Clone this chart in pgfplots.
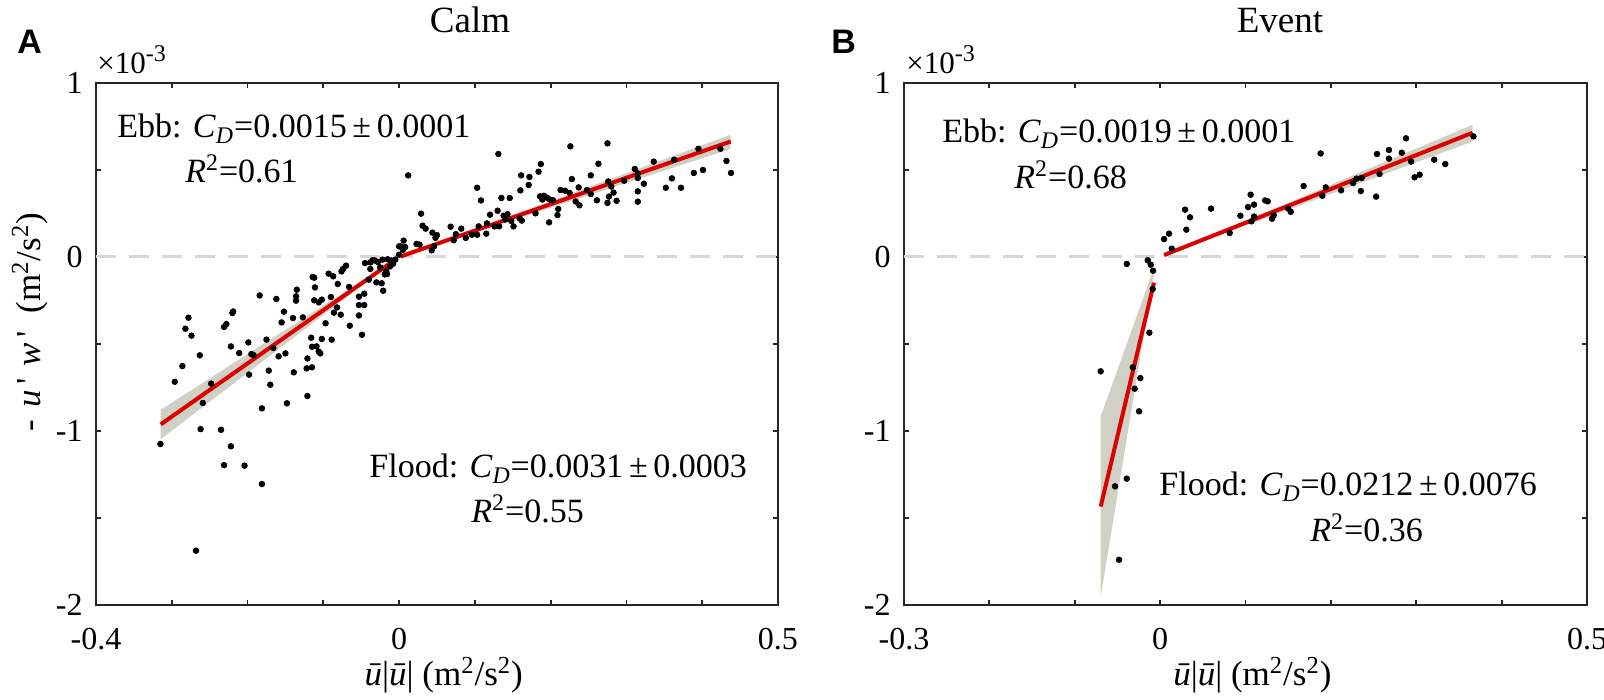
\documentclass[border=0pt]{standalone}
\usepackage{fontspec}
\setmainfont{Liberation Serif}
\newfontfamily\sansfont{Liberation Sans}
\usepackage{pgfplots}
\pgfplotsset{compat=1.18}

\definecolor{fitred}{RGB}{220,0,0}
\definecolor{bandgray}{RGB}{208,208,196}
\definecolor{axgray}{RGB}{38,38,38}
\definecolor{zerogray}{RGB}{215,215,215}

\pgfplotstableread{
x y
-0.315 -1.075
-0.268 -1.688
-0.296 -0.717
-0.286 -0.627
-0.278 -0.349
-0.282 -0.412
-0.274 -0.452
-0.263 -0.565
-0.259 -0.839
-0.248 -0.728
-0.262 -0.989
-0.235 -0.993
-0.222 -1.088
-0.231 -1.196
-0.204 -1.199
-0.181 -1.305
-0.181 -0.870
-0.148 -0.841
-0.121 -0.799
-0.231 -0.402
-0.228 -0.386
-0.220 -0.322
-0.219 -0.313
-0.222 -0.514
-0.211 -0.552
-0.199 -0.491
-0.195 -0.558
-0.192 -0.564
-0.198 -0.676
-0.184 -0.221
-0.175 -0.475
-0.166 -0.523
-0.172 -0.653
-0.170 -0.734
-0.159 -0.571
-0.150 -0.554
-0.162 -0.241
-0.152 -0.314
-0.155 -0.376
-0.140 -0.351
-0.139 -0.663
-0.136 -0.226
-0.136 -0.251
-0.135 -0.188
-0.127 -0.347
-0.121 -0.583
-0.122 -0.640
-0.115 -0.634
-0.116 -0.464
-0.115 -0.516
-0.109 -0.514
-0.106 -0.544
-0.104 -0.554
-0.102 -0.471
-0.089 -0.475
-0.114 -0.115
-0.112 -0.119
-0.111 -0.175
-0.112 -0.249
-0.106 -0.261
-0.102 -0.245
-0.097 -0.381
-0.093 -0.096
-0.090 -0.230
-0.087 -0.111
-0.086 -0.320
-0.082 -0.290
-0.081 -0.155
-0.077 -0.332
-0.076 -0.083
-0.074 -0.069
-0.070 -0.050
-0.066 -0.172
-0.065 -0.395
-0.053 -0.336
-0.053 -0.276
-0.053 -0.228
-0.049 -0.447
-0.046 -0.211
-0.046 -0.276
-0.045 -0.035
-0.038 -0.031
-0.035 -0.019
-0.028 -0.029
-0.022 -0.015
-0.015 -0.013
-0.040 -0.130
-0.038 -0.069
-0.030 -0.146
-0.023 -0.151
-0.021 -0.194
-0.019 -0.100
-0.017 -0.082
-0.016 -0.098
-0.012 -0.054
-0.008 -0.039
-0.032 -0.020
-0.025 -0.060
-0.010 -0.020
-0.005 -0.015
}\calmflood

\pgfplotstableread{
x y
0.000 0.061
0.000 0.013
0.012 0.469
0.006 0.094
0.002 0.061
0.008 0.057
0.005 0.041
0.023 0.075
0.027 0.071
0.029 0.249
0.031 0.180
0.035 0.163
0.044 0.140
0.050 0.126
0.048 0.110
0.043 0.038
0.046 0.061
0.068 0.174
0.072 0.096
0.075 0.131
0.082 0.163
0.088 0.110
0.096 0.128
0.103 0.398
0.108 0.325
0.103 0.128
0.105 0.176
0.115 0.134
0.116 0.193
0.120 0.243
0.126 0.176
0.131 0.592
0.130 0.266
0.132 0.176
0.135 0.339
0.138 0.237
0.140 0.215
0.143 0.246
0.146 0.339
0.148 0.207
0.151 0.176
0.159 0.222
0.162 0.209
0.160 0.383
0.161 0.469
0.171 0.414
0.172 0.460
0.180 0.251
0.184 0.490
0.187 0.534
0.186 0.349
0.189 0.330
0.191 0.352
0.195 0.341
0.199 0.330
0.203 0.326
0.198 0.199
0.209 0.241
0.210 0.276
0.213 0.385
0.219 0.381
0.226 0.636
0.228 0.448
0.225 0.368
0.233 0.319
0.237 0.400
0.238 0.297
0.248 0.385
0.253 0.362
0.253 0.469
0.261 0.326
0.263 0.536
0.275 0.653
0.276 0.434
0.275 0.311
0.277 0.347
0.283 0.370
0.280 0.405
0.287 0.323
0.297 0.438
0.311 0.506
0.315 0.481
0.315 0.454
0.315 0.377
0.315 0.318
0.323 0.421
0.336 0.548
0.352 0.398
0.360 0.452
0.363 0.559
0.372 0.398
0.389 0.483
0.395 0.622
0.401 0.500
0.424 0.622
0.432 0.552
0.438 0.483
}\calmebb

\pgfplotstableread{
x y
0.0046 0.103
0.0104 0.134
0.0136 0.048
0.0292 0.272
0.035 0.228
0.0307 0.157
0.0596 0.278
0.0815 0.138
0.094 0.237
0.103 0.287
0.106 0.358
0.110 0.301
0.110 0.232
0.107 0.205
0.123 0.325
0.126 0.320
0.131 0.220
0.133 0.239
0.150 0.278
0.153 0.260
0.168 0.408
0.188 0.595
0.190 0.352
0.194 0.400
0.212 0.383
0.226 0.425
0.230 0.450
0.236 0.454
0.235 0.379
0.253 0.347
0.257 0.477
0.254 0.592
0.268 0.565
0.268 0.615
0.283 0.599
0.288 0.682
0.294 0.548
0.298 0.458
0.304 0.473
0.321 0.559
0.334 0.534
0.367 0.693
}\eventebb

\pgfplotstableread{
x y
-0.0391 -0.040
-0.0145 -0.019
-0.011 -0.044
-0.0083 -0.079
-0.0087 -0.184
-0.0126 -0.435
-0.0696 -0.657
-0.032 -0.634
-0.0232 -0.696
-0.0298 -0.757
-0.0247 -0.887
-0.0391 -1.274
-0.0528 -1.318
-0.0481 -1.740
}\eventflood

\pgfplotsset{
  panel/.style={
    scale only axis, width=341pt, height=261pt,
    ymin=-2, ymax=1,
    ytick={-2,-1.5,-1,-0.5,0,0.5,1},
    yticklabels={-2,,-1,,0,,1},
    axis line style={axgray, line width=1.2pt},
    every tick/.style={axgray, line width=0.9pt},
    major tick length=2.6pt,
    tick align=inside,
    /pgf/number format/assume math mode=true,
    tick label style={font=\fontsize{16}{18}\selectfont, inner sep=0pt, text=black},
    xticklabel style={yshift=-11.5pt},
    yticklabel style={xshift=-6.5pt},
    label style={font=\fontsize{17.5}{20}\selectfont},
    xlabel={\textit{ū}|\textit{ū}| (m\textsuperscript{2}/s\textsuperscript{2})},
    xlabel style={at={(axis description cs:0.51,-0.155)}, anchor=base},
  },
  scat/.style={only marks, mark=*, mark size=1.4pt, black},
  fit/.style={fitred, line width=2pt},
  band/.style={fill=bandgray, draw=none},
  zero/.style={zerogray, line width=1.5pt, dash pattern=on 10pt off 6.5pt},
}

\newcommand{\expolabel}{\fontsize{15.5}{18}\selectfont ×10\raisebox{6pt}{\fontsize{12}{14}\selectfont -3}}

\begin{document}
\begin{tikzpicture}
\useasboundingbox (0,0) rectangle (802pt,350pt);

% ---------------- Panel A (Calm) ----------------
\begin{axis}[panel, at={(48pt,47.5pt)}, anchor=south west,
  xmin=-0.4, xmax=0.5,
  xtick={-0.4,-0.3,-0.2,-0.1,0,0.1,0.2,0.3,0.4,0.5},
  xticklabels={-0.4,,,,0,,,,,0.5},
  ylabel={-\,\,\textit{u}\,\textquotesingle\,\,\textit{w}\,\textquotesingle\ \ (m\textsuperscript{2}/s\textsuperscript{2})},
  ylabel style={at={(axis description cs:-0.0968,0.542)}, anchor=center},
]
\addplot[zero] coordinates {(-0.4,0) (0.5,0)};
\addplot[band] coordinates {(-0.3146,-0.878) (-0.0098,-0.027) (-0.0098,-0.033) (-0.3146,-1.047)} -- cycle;
\addplot[band] coordinates {(0.002,0.0028) (0.4376,0.703) (0.4376,0.621) (0.002,0.0025)} -- cycle;
\addplot[scat] table[x=x,y=y] {\calmflood};
\addplot[scat] table[x=x,y=y] {\calmebb};
\addplot[fit] coordinates {(-0.3146,-0.962) (-0.0098,-0.030)};
\addplot[fit] coordinates {(0.002,0.003) (0.4376,0.664)};
\end{axis}

% ---------------- Panel B (Event) ----------------
\begin{axis}[panel, at={(452pt,47.5pt)}, anchor=south west,
  width=341.5pt,
  xmin=-0.3, xmax=0.5,
  xtick={-0.3,-0.2,-0.1,0,0.1,0.2,0.3,0.4,0.5},
  xticklabels={-0.3,,,0,,,,,0.5},
]
\addplot[zero] coordinates {(-0.3,0) (0.5,0)};
\addplot[band] coordinates {(-0.0696,-0.916) (-0.0048,-0.031) (-0.0075,-0.105) (-0.0696,-1.95)} -- cycle;
\addplot[band] coordinates {(0.0046,0.0096) (0.366,0.760) (0.366,0.664) (0.0046,0.0083)} -- cycle;
\addplot[scat] table[x=x,y=y] {\eventflood};
\addplot[scat] table[x=x,y=y] {\eventebb};
\addplot[fit] coordinates {(-0.0072,-0.148) (-0.0696,-1.434)};
\addplot[fit] coordinates {(0.0046,0.011) (0.366,0.714)};
\end{axis}

% ---------------- texts (pixel grid of the reference) ----------------
\begin{scope}[x=0.5pt, y=-0.5pt, shift={(0,350pt)}]
  \node[anchor=base west, inner sep=0pt, font=\sansfont\bfseries\fontsize{17}{20}\selectfont] at (17,54) {A};
  \node[anchor=base west, inner sep=0pt, font=\sansfont\bfseries\fontsize{17}{20}\selectfont] at (831,54) {B};
  \node[anchor=base, inner sep=0pt, font=\fontsize{18.5}{22}\selectfont] at (470,33) {Calm};
  \node[anchor=base, inner sep=0pt, font=\fontsize{18.5}{22}\selectfont] at (1280,33) {Event};
  \node[anchor=base west, inner sep=0pt, font=\fontsize{15.5}{18}\selectfont] at (97,74) {\expolabel};
  \node[anchor=base west, inner sep=0pt, font=\fontsize{15.5}{18}\selectfont] at (906,74) {\expolabel};
  \begin{scope}[every node/.style={anchor=base west, inner sep=0pt, font=\fontsize{17}{20}\selectfont}]
    \node at (117,138) {Ebb: \textit{C}\textsubscript{\textit{D}}=0.0015\,±\,0.0001};
    \node at (185,183) {\textit{R}\textsuperscript{2}=0.61};
    \node at (369,478) {Flood: \textit{C}\textsubscript{\textit{D}}=0.0031\,±\,0.0003};
    \node at (471,523) {\textit{R}\textsuperscript{2}=0.55};
    \node at (942,143) {Ebb: \textit{C}\textsubscript{\textit{D}}=0.0019\,±\,0.0001};
    \node at (1014,189) {\textit{R}\textsuperscript{2}=0.68};
    \node at (1159,496) {Flood: \textit{C}\textsubscript{\textit{D}}=0.0212\,±\,0.0076};
    \node at (1310,542) {\textit{R}\textsuperscript{2}=0.36};
  \end{scope}
\end{scope}
\end{tikzpicture}
\end{document}
